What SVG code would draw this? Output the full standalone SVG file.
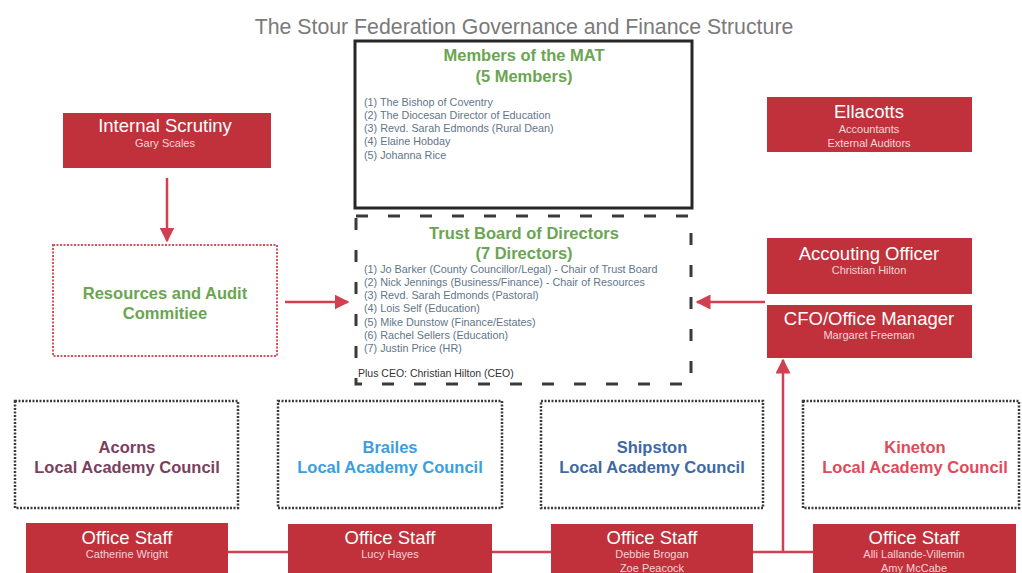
<svg xmlns="http://www.w3.org/2000/svg" width="1022" height="573" viewBox="0 0 1022 573">
<defs>
<style>
text{font-family:"Liberation Sans",Arial,sans-serif;}
.red{fill:#c1313b;}
.wt{fill:#fff;font-size:18.5px;text-anchor:middle;}
.ws{fill:#f4d4d6;font-size:11px;text-anchor:middle;}
.gt{fill:#6aa552;font-size:16.5px;font-weight:bold;text-anchor:middle;}
.li{fill:#5f7688;font-size:10.8px;}
.lac{fill:#fff;stroke:#3a3a3a;stroke-width:2.5;stroke-dasharray:2 1.5;}
.lt{font-size:16.5px;font-weight:bold;text-anchor:middle;}
.con{stroke:#d04050;stroke-width:2.5;fill:none;}
</style>
<marker id="ah" viewBox="0 0 10 10" refX="9" refY="5" markerWidth="6" markerHeight="6" orient="auto-start-reverse" markerUnits="strokeWidth">
<path d="M0,0 L10,5 L0,10 z" fill="#d04050"/>
</marker>
</defs>
<rect width="1022" height="573" fill="#fff"/>
<text x="524" y="34" text-anchor="middle" font-size="21.3" fill="#7a7a7a">The Stour Federation Governance and Finance Structure</text>

<g id="connectors">
<line class="con" x1="167" y1="178" x2="167" y2="241" marker-end="url(#ah)"/>
<line class="con" x1="285" y1="302" x2="348" y2="302" marker-end="url(#ah)"/>
<line class="con" x1="765" y1="302" x2="697" y2="302" marker-end="url(#ah)"/>
<line class="con" x1="783" y1="552" x2="783" y2="360" marker-end="url(#ah)"/>
<line class="con" x1="228" y1="552" x2="288" y2="552"/>
<line class="con" x1="492" y1="552" x2="551" y2="552"/>
<line class="con" x1="753" y1="552" x2="813" y2="552"/>
</g>

<g id="members">
<rect x="355" y="41" width="337" height="167" fill="#fff" stroke="#262626" stroke-width="3"/>
<text class="gt" x="524" y="61">Members of the MAT</text>
<text class="gt" x="524" y="82">(5 Members)</text>
<text class="li" x="364" y="106">(1) The Bishop of Coventry</text>
<text class="li" x="364" y="119">(2) The Diocesan Director of Education</text>
<text class="li" x="364" y="132">(3) Revd. Sarah Edmonds (Rural Dean)</text>
<text class="li" x="364" y="145">(4) Elaine Hobday</text>
<text class="li" x="364" y="159">(5) Johanna Rice</text>
</g>

<g id="trust-board">
<rect x="356" y="216" width="335" height="168" fill="#fff" stroke="#3a3a3a" stroke-width="3" stroke-dasharray="12 20"/>
<text class="gt" x="524" y="239">Trust Board of Directors</text>
<text class="gt" x="524" y="259">(7 Directors)</text>
<text class="li" x="364" y="273">(1)  Jo Barker (County Councillor/Legal) - Chair of Trust Board</text>
<text class="li" x="364" y="286">(2)  Nick Jennings (Business/Finance) - Chair of Resources</text>
<text class="li" x="364" y="299">(3)  Revd. Sarah Edmonds (Pastoral)</text>
<text class="li" x="364" y="312">(4)  Lois Self (Education)</text>
<text class="li" x="364" y="326">(5)  Mike Dunstow (Finance/Estates)</text>
<text class="li" x="364" y="339">(6)  Rachel Sellers (Education)</text>
<text class="li" x="364" y="352">(7)  Justin Price (HR)</text>
<text x="358" y="377" font-size="10.5" fill="#333">Plus CEO: Christian Hilton (CEO)</text>
</g>

<g id="internal-scrutiny">
<rect class="red" x="63" y="113" width="208" height="55"/>
<text class="wt" x="165" y="132">Internal Scrutiny</text>
<text class="ws" x="165" y="147">Gary Scales</text>
</g>

<g id="resources-audit">
<rect x="53" y="245" width="224" height="111" fill="#fff" stroke="#d9505c" stroke-width="2" stroke-dasharray="2 1.5"/>
<text class="gt" x="165" y="299" font-size="16">Resources and Audit</text>
<text class="gt" x="165" y="319" font-size="16">Commitiee</text>
</g>

<g id="ellacotts">
<rect class="red" x="767" y="97" width="205" height="55"/>
<text class="wt" x="869" y="118">Ellacotts</text>
<text class="ws" x="869" y="133">Accountants</text>
<text class="ws" x="869" y="147">External Auditors</text>
</g>

<g id="accounting-officer">
<rect class="red" x="767" y="238" width="205" height="56"/>
<text class="wt" x="869" y="260">Accouting Officer</text>
<text class="ws" x="869" y="274">Christian Hilton</text>
</g>

<g id="cfo">
<rect class="red" x="767" y="305" width="205" height="53"/>
<text class="wt" x="869" y="325">CFO/Office Manager</text>
<text class="ws" x="869" y="339">Margaret Freeman</text>
</g>

<g id="lac-acorns">
<rect class="lac" x="15" y="401" width="223" height="107"/>
<text class="lt" x="127" y="453" fill="#7a3f5e">Acorns</text>
<text class="lt" x="127" y="473" fill="#7a3f5e">Local Academy Council</text>
</g>
<g id="lac-brailes">
<rect class="lac" x="278" y="401" width="224" height="107"/>
<text class="lt" x="390" y="453" fill="#3b9ee2">Brailes</text>
<text class="lt" x="390" y="473" fill="#3b9ee2">Local Academy Council</text>
</g>
<g id="lac-shipston">
<rect class="lac" x="541" y="401" width="222" height="107"/>
<text class="lt" x="652" y="453" fill="#3e69a3">Shipston</text>
<text class="lt" x="652" y="473" fill="#3e69a3">Local Academy Council</text>
</g>
<g id="lac-kineton">
<rect class="lac" x="803" y="401" width="216" height="107"/>
<text class="lt" x="915" y="453" fill="#e04a5a">Kineton</text>
<text class="lt" x="915" y="473" fill="#e04a5a">Local Academy Council</text>
</g>

<g id="office-acorns">
<rect class="red" x="26" y="523" width="202" height="55"/>
<text class="wt" x="127" y="544">Office Staff</text>
<text class="ws" x="127" y="558">Catherine Wright</text>
</g>
<g id="office-brailes">
<rect class="red" x="288" y="524" width="204" height="54"/>
<text class="wt" x="390" y="544">Office Staff</text>
<text class="ws" x="390" y="558">Lucy Hayes</text>
</g>
<g id="office-shipston">
<rect class="red" x="551" y="524" width="202" height="54"/>
<text class="wt" x="652" y="544">Office Staff</text>
<text class="ws" x="652" y="558">Debbie Brogan</text>
<text class="ws" x="652" y="572">Zoe Peacock</text>
</g>
<g id="office-kineton">
<rect class="red" x="813" y="524" width="203" height="54"/>
<text class="wt" x="914" y="544">Office Staff</text>
<text class="ws" x="914" y="558">Alli Lallande-Villemin</text>
<text class="ws" x="914" y="572">Amy McCabe</text>
</g>
</svg>
